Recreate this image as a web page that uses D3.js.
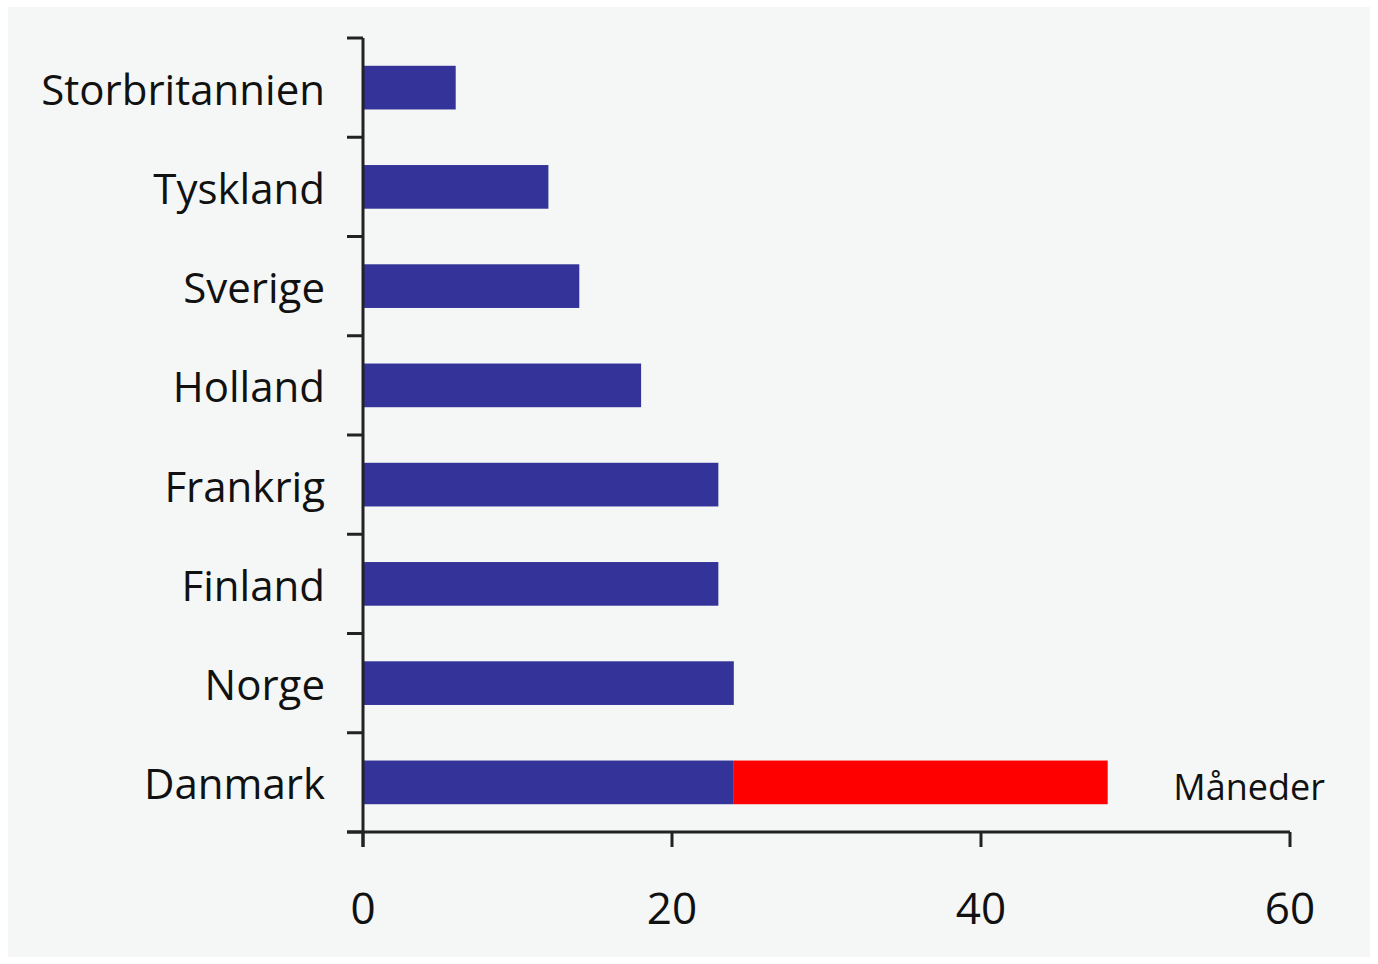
<!DOCTYPE html>
<html><head><meta charset="utf-8">
<script src="https://cdn.jsdelivr.net/npm/d3@7"></script>
<style>
html,body{margin:0;padding:0;background:#fff;}
svg{display:block;}
text{font-family:"Open Sans",sans-serif;fill:#111;font-weight:500;}
</style></head>
<body>
<svg id="chart" width="1378" height="964"></svg>
<script>
const categories = ["Storbritannien","Tyskland","Sverige","Holland","Frankrig","Finland","Norge","Danmark"];
const baseValues = [6,12,14,18,23,23,24,24];
const extraValues = [0,0,0,0,0,0,0,24.2];
const xTicks = [0,20,40,60];
const unitLabel = "Måneder";

const svg = d3.select("#chart");
svg.append("rect").attr("x",8).attr("y",7).attr("width",1362).attr("height",950).attr("fill","#f4f7f5");

const x = d3.scaleLinear().domain([0,60]).range([363,1290]);
const y = d3.scaleBand().domain(categories).range([38,832]).paddingInner(0.56).paddingOuter(0.28);

const data = categories.map((c,i)=>({c, base:baseValues[i], extra:extraValues[i]}));

svg.selectAll("rect.base").data(data).join("rect").attr("class","base")
  .attr("x",x(0)).attr("y",d=>y(d.c)).attr("width",d=>x(d.base)-x(0)).attr("height",y.bandwidth())
  .attr("fill","#333399");
svg.selectAll("rect.extra").data(data.filter(d=>d.extra>0)).join("rect").attr("class","extra")
  .attr("x",d=>x(d.base)).attr("y",d=>y(d.c)).attr("width",d=>x(d.base+d.extra)-x(d.base)).attr("height",y.bandwidth())
  .attr("fill","#ff0000");

// y axis
const yEdges = d3.range(categories.length+1).map(i=>38+i*(794/categories.length));
svg.append("line").attr("x1",363).attr("x2",363).attr("y1",38).attr("y2",847).attr("stroke","#222").attr("stroke-width",3);
svg.selectAll("line.ytick").data(yEdges).join("line").attr("class","ytick")
  .attr("x1",347).attr("x2",363).attr("y1",d=>d).attr("y2",d=>d).attr("stroke","#222").attr("stroke-width",3);
svg.selectAll("text.ylab").data(categories).join("text").attr("class","ylab")
  .attr("x",325).attr("y",c=>y(c)+y.bandwidth()/2+2).attr("dy","0.36em").attr("text-anchor","end")
  .attr("font-size",42).text(c=>c);

// x axis
svg.append("line").attr("x1",347).attr("x2",1290).attr("y1",832).attr("y2",832).attr("stroke","#222").attr("stroke-width",3);
svg.selectAll("line.xtick").data(xTicks).join("line").attr("class","xtick")
  .attr("x1",d=>x(d)).attr("x2",d=>x(d)).attr("y1",832).attr("y2",847).attr("stroke","#222").attr("stroke-width",3);
svg.selectAll("text.xlab").data(xTicks).join("text").attr("class","xlab")
  .attr("x",d=>x(d)).attr("y",924).attr("text-anchor","middle").attr("font-size",44).text(d=>d);

svg.append("text").attr("x",1325).attr("y",800).attr("text-anchor","end").attr("font-size",36).text(unitLabel);
</script>
</body></html>
